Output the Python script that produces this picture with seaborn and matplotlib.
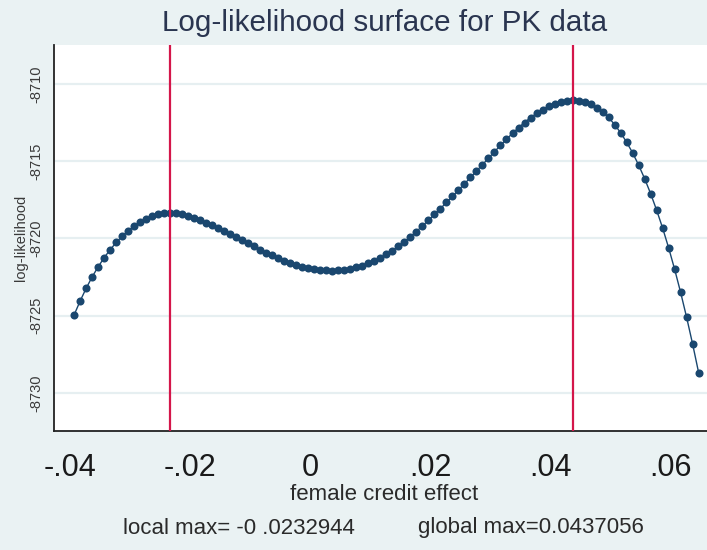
import numpy as np
import pandas as pd
import matplotlib
matplotlib.use("Agg")
import matplotlib.pyplot as plt
import seaborn as sns

# ---- data ----
effect = [
    -0.0392944, -0.0382944, -0.0372944, -0.0362944, -0.0352944, -0.0342944, -0.0332944, -0.0322944,
    -0.0312944, -0.0302944, -0.0292944, -0.0282944, -0.0272944, -0.0262944, -0.0252944, -0.0242944,
    -0.0232944, -0.0222944, -0.0212944, -0.0202944, -0.0192944, -0.0182944, -0.0172944, -0.0162944,
    -0.0152944, -0.0142944, -0.0132944, -0.0122944, -0.0112944, -0.0102944, -0.0092944, -0.0082944,
    -0.0072944, -0.0062944, -0.0052944, -0.0042944, -0.0032944, -0.0022944, -0.0012944, -0.0002944,
    0.0007056, 0.0017056, 0.0027056, 0.0037056, 0.0047056, 0.0057056, 0.0067056, 0.0077056,
    0.0087056, 0.0097056, 0.0107056, 0.0117056, 0.0127056, 0.0137056, 0.0147056, 0.0157056,
    0.0167056, 0.0177056, 0.0187056, 0.0197056, 0.0207056, 0.0217056, 0.0227056, 0.0237056,
    0.0247056, 0.0257056, 0.0267056, 0.0277056, 0.0287056, 0.0297056, 0.0307056, 0.0317056,
    0.0327056, 0.0337056, 0.0347056, 0.0357056, 0.0367056, 0.0377056, 0.0387056, 0.0397056,
    0.0407056, 0.0417056, 0.0427056, 0.0437056, 0.0447056, 0.0457056, 0.0467056, 0.0477056,
    0.0487056, 0.0497056, 0.0507056, 0.0517056, 0.0527056, 0.0537056, 0.0547056, 0.0557056,
    0.0567056, 0.0577056, 0.0587056, 0.0597056, 0.0607056, 0.0617056, 0.0627056, 0.0637056,
    0.0647056,
]
loglik = [
    -8724.94, -8724.04, -8723.22, -8722.48, -8721.83, -8721.24, -8720.72, -8720.26,
    -8719.85, -8719.50, -8719.19, -8718.93, -8718.71, -8718.55, -8718.43, -8718.36,
    -8718.33, -8718.36, -8718.42, -8718.53, -8718.66, -8718.81, -8718.97, -8719.14,
    -8719.33, -8719.52, -8719.72, -8719.92, -8720.12, -8720.32, -8720.52, -8720.72,
    -8720.92, -8721.10, -8721.28, -8721.44, -8721.59, -8721.72, -8721.82, -8721.91,
    -8721.99, -8722.04, -8722.06, -8722.08, -8722.06, -8722.03, -8721.97, -8721.88,
    -8721.76, -8721.62, -8721.45, -8721.25, -8721.03, -8720.79, -8720.51, -8720.21,
    -8719.89, -8719.55, -8719.19, -8718.82, -8718.44, -8718.06, -8717.67, -8717.27,
    -8716.87, -8716.46, -8716.05, -8715.63, -8715.22, -8714.80, -8714.38, -8713.97,
    -8713.57, -8713.19, -8712.83, -8712.49, -8712.18, -8711.90, -8711.65, -8711.44,
    -8711.27, -8711.15, -8711.07, -8711.04, -8711.07, -8711.16, -8711.31, -8711.52,
    -8711.80, -8712.16, -8712.62, -8713.15, -8713.76, -8714.45, -8715.24, -8716.12,
    -8717.09, -8718.16, -8719.32, -8720.60, -8721.99, -8723.49, -8725.11, -8726.84,
    -8728.69,
]
maxima = [-0.0232944, 0.0437056]
x_ticks = [-0.04, -0.02, 0.0, 0.02, 0.04, 0.06]
x_ticklabels = ["-.04", "-.02", "0", ".02", ".04", ".06"]
y_ticks = [-8730, -8725, -8720, -8715, -8710]
y_ticklabels = ["-8730", "-8725", "-8720", "-8715", "-8710"]
title = "Log-likelihood surface for PK data"
xlabel = "female credit effect"
ylabel = "log-likelihood"
note_local = "local max= -0 .0232944"
note_global = "global max=0.0437056"

df = pd.DataFrame({"effect": effect, "loglik": loglik})

sns.set_style("white")
plt.rcParams["font.family"] = ["Liberation Sans", "DejaVu Sans"]

W, H = 707, 550
bg = "#EAF2F3"
fig = plt.figure(figsize=(W / 100, H / 100), dpi=100, facecolor=bg)
ax = fig.add_axes([54 / W, 1 - 431 / H, 653 / W, 386 / H])
ax.set_facecolor("white")

for v in y_ticks:
    ax.axhline(v, color="#E6EFF1", lw=1.6, zorder=0)

sns.lineplot(data=df, x="effect", y="loglik", ax=ax, color="#1A476F",
             linewidth=1.0, marker="o", markersize=5.8, markeredgewidth=0,
             zorder=3)
for m in maxima:
    ax.axvline(m, color="#D4164A", lw=1.6, zorder=4)

ax.set_xlim(-0.04266, 0.0661)
ax.set_ylim(-8732.47, -8707.47)

ax.set_xticks(x_ticks)
ax.set_xticklabels(x_ticklabels, fontsize=22, color="#1a1a1a")
ax.set_yticks(y_ticks)
ax.set_yticklabels(y_ticklabels, fontsize=10.5, rotation=90,
                   va="center", color="#3a3a3a")
ax.tick_params(axis="x", direction="out", length=11, width=1.3, pad=5, color="#222222")
ax.tick_params(axis="y", direction="out", length=5, width=1.1, pad=3, color="#222222")

for s in ["top", "right"]:
    ax.spines[s].set_visible(False)
for s in ["left", "bottom"]:
    ax.spines[s].set_color("#222222")
    ax.spines[s].set_linewidth(1.3)

ax.set_xlabel("")
ax.set_ylabel("")

fig.text(385 / W, 1 - 23 / H, title, ha="center", va="center",
         fontsize=21.3, color="#2A3550")
fig.text(384 / W, 1 - 494 / H, xlabel, ha="center", va="center",
         fontsize=16, color="#2a2a2a")
fig.text(21 / W, 1 - 238 / H, ylabel, ha="center", va="center", rotation=90,
         fontsize=10.5, color="#3a3a3a")
fig.text(123 / W, 1 - 528 / H, note_local, ha="left", va="center",
         fontsize=16, color="#2a2a2a")
fig.text(418 / W, 1 - 528 / H, note_global, ha="left", va="center",
         fontsize=16, color="#2a2a2a")

fig.savefig("out.png", dpi=100, facecolor=bg)
